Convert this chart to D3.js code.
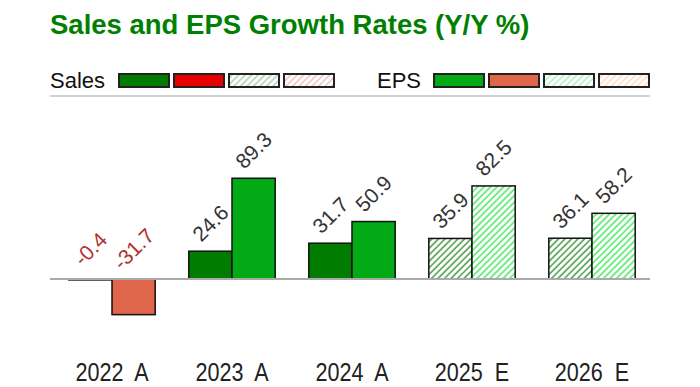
<!DOCTYPE html>
<html>
<head>
<meta charset="utf-8">
<script src="https://cdn.jsdelivr.net/npm/d3@7"></script>
<style>
  body { margin: 0; background: #fff; }
  svg { display: block; }
</style>
</head>
<body>
<div id="chart"></div>
<script>
// chart data
const years = ["2022", "2023", "2024", "2025", "2026"];
const kinds = ["A", "A", "A", "E", "E"]; // A = actual, E = estimate
const salesGrowth = [-0.4, 24.6, 31.7, 35.9, 36.1];
const epsGrowth = [-31.7, 89.3, 50.9, 82.5, 58.2];
const seriesNames = ["Sales", "EPS"];

const W = 700, H = 387;
const FONT = "Liberation Sans, Arial, sans-serif";

const svg = d3.select("#chart").append("svg")
  .attr("width", W)
  .attr("height", H);

// colours per series: actual up/down, estimate (hatched) up/down
const palette = {
  Sales: { pos: "#007d00", neg: "#e60000", hatchPos: "#3a953a", hatchNeg: "#d86a6a" },
  EPS: { pos: "#02aa16", neg: "#e0664b", hatchPos: "#3fe85a", hatchNeg: "#ffad6b" }
};

const defs = svg.append("defs");
function hatch(id, color, opacity) {
  const s = 4.6;
  const p = defs.append("pattern")
    .attr("id", id)
    .attr("patternUnits", "userSpaceOnUse")
    .attr("width", s)
    .attr("height", s)
    .attr("patternTransform", "rotate(45)");
  p.append("rect").attr("width", s).attr("height", s).attr("fill", "#fff");
  p.append("line")
    .attr("x1", 1).attr("y1", 0).attr("x2", 1).attr("y2", s)
    .attr("stroke", color)
    .attr("stroke-opacity", opacity)
    .attr("stroke-width", 1.4);
}
for (const s of seriesNames) {
  hatch(`h-${s}-pos`, palette[s].hatchPos, 1);
  hatch(`h-${s}-neg`, palette[s].hatchNeg, 1);
  hatch(`lg-${s}-pos`, palette[s].hatchPos, 0.45);
  hatch(`lg-${s}-neg`, palette[s].hatchNeg, 0.45);
}

function fillFor(series, value, kind, legend) {
  const c = palette[series];
  if (kind === "A") return value < 0 ? c.neg : c.pos;
  const pre = legend ? "lg" : "h";
  return `url(#${pre}-${series}-${value < 0 ? "neg" : "pos"})`;
}

// title
svg.append("text")
  .attr("x", 50)
  .attr("y", 34)
  .attr("font-family", FONT)
  .attr("font-weight", "bold")
  .attr("font-size", 27.5)
  .attr("fill", "#008000")
  .text("Sales and EPS Growth Rates (Y/Y %)");

// legend
const legendGroups = [
  { name: "Sales", x: 50, swatchX: 119 },
  { name: "EPS", x: 377, swatchX: 434 }
];
const legendKeys = [["A", 1], ["A", -1], ["E", 1], ["E", -1]];
for (const lg of legendGroups) {
  svg.append("text")
    .attr("x", lg.x)
    .attr("y", 88)
    .attr("font-family", FONT)
    .attr("font-size", 22)
    .attr("fill", "#111")
    .text(lg.name);
  svg.append("g")
    .selectAll("rect")
    .data(legendKeys)
    .join("rect")
    .attr("x", (d, i) => lg.swatchX + i * 55)
    .attr("y", 74)
    .attr("width", 50)
    .attr("height", 13)
    .attr("fill", d => fillFor(lg.name, d[1], d[0], true))
    .attr("stroke", "#222")
    .attr("stroke-width", 2);
}

svg.append("line")
  .attr("x1", 50).attr("x2", 650)
  .attr("y1", 96).attr("y2", 96)
  .attr("stroke", "#d0d0d0")
  .attr("stroke-width", 2);

// scales
const x = d3.scaleBand()
  .domain(years)
  .range([52, 652])
  .paddingInner(0.28)
  .paddingOuter(0.14);

const xInner = d3.scaleBand()
  .domain(seriesNames)
  .range([0, x.bandwidth()]);

const y = d3.scaleLinear()
  .domain([-40, 100])
  .range([324, 166.2]);

const rows = years.map((yr, i) => ({
  year: yr,
  kind: kinds[i],
  values: [
    { series: "Sales", value: salesGrowth[i] },
    { series: "EPS", value: epsGrowth[i] }
  ]
}));

const groups = svg.append("g")
  .selectAll("g")
  .data(rows)
  .join("g")
  .attr("transform", d => `translate(${x(d.year)},0)`);

groups.selectAll("rect")
  .data(d => d.values.map(v => ({ ...v, kind: d.kind })))
  .join("rect")
  .attr("x", d => xInner(d.series))
  .attr("y", d => Math.min(y(d.value), y(0)))
  .attr("width", xInner.bandwidth())
  .attr("height", d => Math.max(1, Math.abs(y(d.value) - y(0))))
  .attr("fill", d => fillFor(d.series, d.value, d.kind, false))
  .attr("stroke", "#111")
  .attr("stroke-width", 1.5);

// value labels, rotated; negatives sit above the zero line
groups.selectAll("text.val")
  .data(d => d.values)
  .join("text")
  .attr("class", "val")
  .attr("transform", d => {
    const cx = xInner(d.series) + xInner.bandwidth() / 2;
    const cy = d.value < 0 ? y(0) - 30 : y(d.value) - 28;
    return `translate(${cx},${cy}) rotate(-45)`;
  })
  .attr("text-anchor", "middle")
  .attr("dy", "0.35em")
  .attr("font-family", FONT)
  .attr("font-size", 21)
  .attr("fill", d => d.value < 0 ? "#b23030" : "#333")
  .text(d => d.value.toFixed(1));

// zero line
svg.append("line")
  .attr("x1", 50).attr("x2", 650)
  .attr("y1", y(0)).attr("y2", y(0))
  .attr("stroke", "#aaa")
  .attr("stroke-width", 2);

// x axis labels (condensed look)
svg.append("g")
  .selectAll("text")
  .data(rows)
  .join("text")
  .attr("transform", d => `translate(${x(d.year) + x.bandwidth() / 2},381) scale(0.83,1)`)
  .attr("text-anchor", "middle")
  .attr("font-family", FONT)
  .attr("font-size", 26)
  .attr("fill", "#222")
  .style("white-space", "pre")
  .text(d => `${d.year}  ${d.kind}`);
</script>
</body>
</html>
